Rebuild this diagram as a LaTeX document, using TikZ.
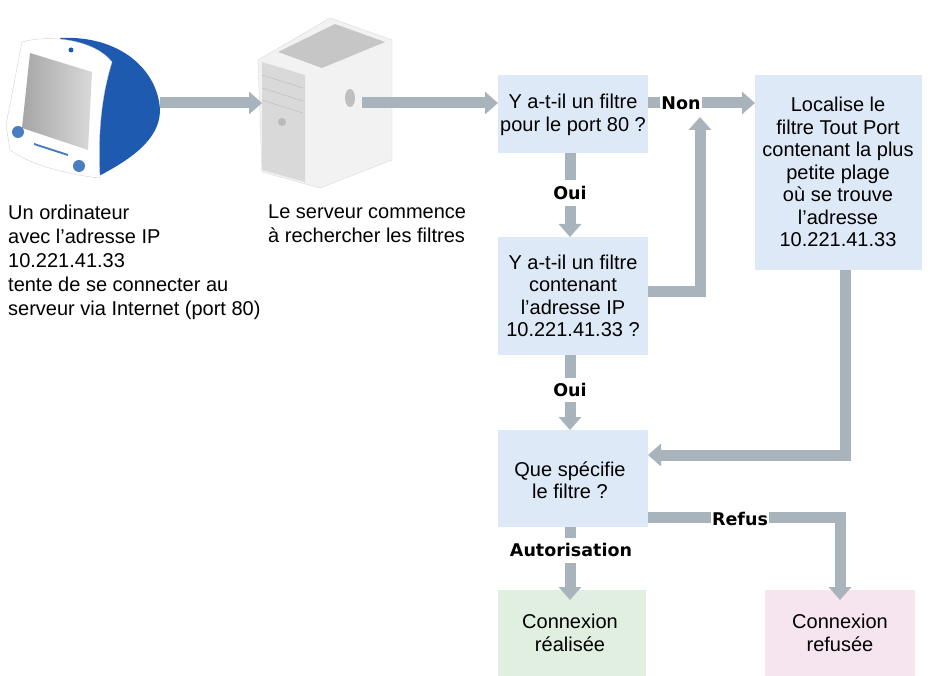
\documentclass[tikz,border=0pt]{standalone}
\usepackage{fontspec}
\setmainfont{Liberation Sans}
\newfontfamily\heavy{DejaVu Sans}
\usetikzlibrary{arrows.meta}
\definecolor{boxblue}{HTML}{DDE9F6}
\definecolor{boxgreen}{HTML}{E0EFDF}
\definecolor{boxpink}{HTML}{F6E4EE}
\definecolor{arr}{HTML}{A9B3BB}
\definecolor{macblue}{HTML}{1E5BB0}
\tikzset{
 fbox/.style={fill=none,draw=none,align=center,font=\fontsize{20}{22.5}\selectfont,inner sep=0pt},
 flow/.style={draw=arr,line width=11pt,-{Triangle[width=22pt,length=13pt]}},
 flown/.style={draw=arr,line width=11pt},
 lab/.style={font=\heavy\fontsize{17.5}{18}\selectfont\bfseries,fill=white,inner sep=1.5pt},
 caption/.style={align=left,anchor=north west,font=\fontsize{20}{24}\selectfont,inner sep=0pt}
}
\begin{document}
\begin{tikzpicture}[x=1pt,y=-1pt]
\useasboundingbox (0,0) rectangle (928,676);
% boxes
\fill[boxblue] (498,75) rectangle (648,153);
\node[fbox] (b1) at (573,115) {Y a-t-il un filtre\\pour le port 80 ?};
\fill[boxblue] (498,237) rectangle (648,355);
\node[fbox] (b2) at (573,296) {Y a-t-il un filtre\\contenant\\l'adresse IP\\10.221.41.33 ?};
\fill[boxblue] (755,75) rectangle (922,270);
\node[fbox] (b3) at (838,172) {Localise le\\filtre Tout Port\\contenant la plus\\petite plage\\où se trouve\\l'adresse\\10.221.41.33};
\fill[boxblue] (498,430) rectangle (648,527);
\node[fbox] (b4) at (570,480) {Que spécifie\\le filtre ?};
\fill[boxgreen] (498,590) rectangle (646,676);
\node[fbox] (b5) at (570,633) {Connexion\\réalisée};
\fill[boxpink] (765,590) rectangle (915,676);
\node[fbox] (b6) at (840,633) {Connexion\\refusée};
% computer
\coordinate (pc) at (160,103);
\fill[macblue] (60,38) .. controls (120,35) and (158,70) .. (160,110) .. controls (160,140) and (130,160) .. (95,178) -- (80,60) -- cycle;
\fill[white] (22,42) .. controls (50,34) and (95,40) .. (112,62) .. controls (100,100) and (98,140) .. (100,178) .. controls (70,175) and (30,165) .. (10,150) -- (6,125) -- cycle;
\draw[gray!35] (22,42) .. controls (50,34) and (95,40) .. (112,62) .. controls (100,100) and (98,140) .. (100,178) .. controls (70,175) and (30,165) .. (10,150) -- (6,125) -- cycle;
\shade[left color=gray!70,right color=gray!30] (30,53) -- (92,72) -- (88,150) -- (22,128) -- cycle;
\fill[macblue!80] (18,132) circle (6);
\fill[macblue!80] (79,166) circle (6);
\fill[macblue!80] (34,143) -- (68,154) -- (68,156) -- (34,145) -- cycle;
\fill[macblue] (71,50) circle (2.5);
% server
\coordinate (srv) at (262,103);
\coordinate (srvout) at (362,103);
\fill[gray!10] (258,60) -- (330,18) -- (392,40) -- (392,160) -- (320,188) -- (262,172) -- cycle;
\draw[gray!30] (258,60) -- (330,18) -- (392,40) -- (392,160) -- (320,188) -- (262,172) -- cycle;
\fill[gray!45] (278,52) -- (335,24) -- (385,42) -- (322,68) -- cycle;
\fill[gray!30] (262,62) -- (305,75) -- (305,182) -- (262,170) -- cycle;
\draw[gray!55] (262,75) -- (303,88) (262,88) -- (303,101) (262,100) -- (303,113);
\fill[gray!55] (282,122) circle (4);
\fill[gray!50] (350,98) ellipse (5 and 9);
% arrows
\draw[flow] (pc) -- (srv);
\draw[flow] (srvout) -- (498,103);
\draw[flow] (648,103) -- (755,103);
\node[lab] (non) at (681,103) {Non};
\draw[flown] (570,153) -- (570,180);
\draw[flow] (570,206) -- (570,237);
\node[lab] (oui1) at (570,193) {Oui};
\draw[flow] (648,291) -- (700,291) -- (700,117);
\draw[flown] (570,355) -- (570,378);
\draw[flow] (570,402) -- (570,430);
\node[lab] (oui2) at (570,390) {Oui};
\draw[flow] (845,270) -- (845,455) -- (648,455);
\draw[flown] (570,527) -- (570,538);
\draw[flow] (570,563) -- (570,600);
\node[lab] (aut) at (571,550) {Autorisation};
\draw[flow] (648,517) -- (840,517) -- (840,600);
\node[lab] (ref) at (740,519) {Refus};
% captions
\node[caption] (c1) at (8,205) {Un ordinateur\\avec l'adresse IP\\10.221.41.33\\tente de se connecter au\\serveur via Internet (port 80)};
\node[caption] (c2) at (268,205) {Le serveur commence\\à rechercher les filtres};
\end{tikzpicture}
\end{document}
